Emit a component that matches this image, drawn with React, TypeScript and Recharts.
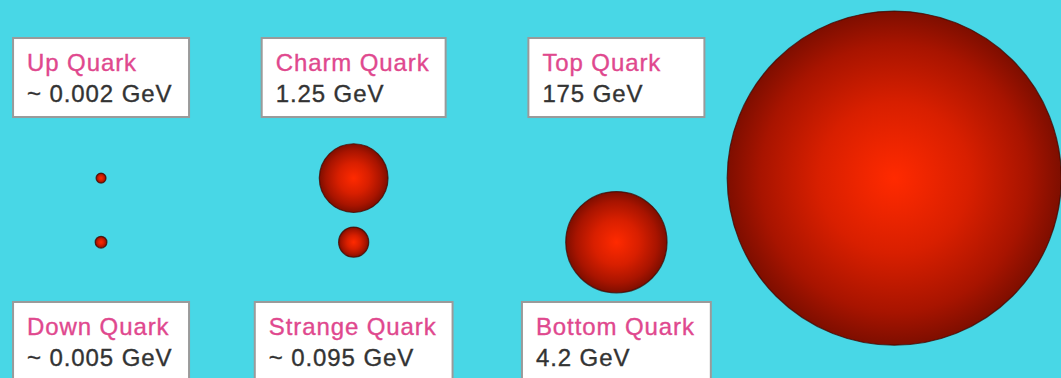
import React from 'react';
import { ScatterChart, Scatter, XAxis, YAxis } from 'recharts';

// ---- data ----
const quarkNames = ['Up Quark', 'Down Quark', 'Charm Quark', 'Strange Quark', 'Top Quark', 'Bottom Quark'];
const massLabels = ['~ 0.002 GeV', '~ 0.005 GeV', '1.25 GeV', '~ 0.095 GeV', '175 GeV', '4.2 GeV'];
const massesGeV = [0.002, 0.005, 1.25, 0.095, 175, 4.2];
const bubbleX = [1, 1, 2, 2, 4.14, 3.04];
const bubbleY = [2, 1, 2, 1, 2, 1];
const labelX = [1, 1, 2, 2, 3.04, 3.04];
const labelY = [3.57, -0.55, 3.57, -0.55, 3.57, -0.55];

const bubbles = quarkNames.map((name, i) => ({ name, x: bubbleX[i], y: bubbleY[i], mass: massesGeV[i] }));
const labels = quarkNames.map((name, i) => ({ name, value: massLabels[i], x: labelX[i], y: labelY[i] }));

// ---- styles ----
const W = 1061;
const H = 378;
const BG = '#48d7e6';
const FONT = '"Liberation Sans", Arial, Helvetica, sans-serif';
const FONT_SIZE = 24;
const LETTER = 0.9;
const TITLE_COLOR = '#e0488e';
const VALUE_COLOR = '#333333';

let ctx: CanvasRenderingContext2D | null = null;
function textWidth(s: string) {
  if (!ctx) {
    const c = document.createElement('canvas');
    ctx = c.getContext('2d');
  }
  if (!ctx) return s.length * FONT_SIZE * 0.55;
  ctx.font = `${FONT_SIZE}px "Liberation Sans"`;
  return ctx.measureText(s).width + LETTER * s.length;
}

// sphere volume ~ mass
const radiusOf = (m: number) => Math.max(5, 32 * Math.pow(m, 0.32));

const Bubble = (props: any) => {
  const { cx, cy, payload } = props;
  const r = radiusOf(payload.mass);
  return (
    <circle cx={cx} cy={cy} r={r} fill="url(#quarkGrad)" stroke="#3d0800" strokeOpacity={0.75} strokeWidth={1.2} />
  );
};

const LabelBox = (props: any) => {
  const { cx, cy, payload } = props;
  const tw = Math.max(textWidth(payload.name), textWidth(payload.value));
  const bw = Math.max(176, tw + 30);
  const bh = 79;
  const left = cx - bw / 2;
  const top = cy - bh / 2;
  return (
    <g>
      <rect x={left} y={top} width={bw} height={bh} fill="#ffffff" stroke="#9a9a9a" strokeWidth={2} />
      <text x={left + 14} y={top + 33} fill={TITLE_COLOR} stroke={TITLE_COLOR} strokeWidth={0.35} fontFamily={FONT} fontSize={FONT_SIZE} letterSpacing={LETTER}>
        {payload.name}
      </text>
      <text x={left + 14} y={top + 64} fill={VALUE_COLOR} stroke={VALUE_COLOR} strokeWidth={0.35} fontFamily={FONT} fontSize={FONT_SIZE} letterSpacing={LETTER}>
        {payload.value}
      </text>
    </g>
  );
};

export default function App() {
  return (
    <div style={{ width: W, height: H, background: BG, overflow: 'hidden' }}>
      <style>{`body{margin:0;background:${BG};}`}</style>
      <ScatterChart width={W} height={H} margin={{ top: 0, right: 0, bottom: 0, left: 0 }}>
        <defs>
          <radialGradient id="quarkGrad" cx="50%" cy="50%" r="50%">
            <stop offset="0%" stopColor="#ff2a00" />
            <stop offset="45%" stopColor="#d81f00" />
            <stop offset="80%" stopColor="#a81400" />
            <stop offset="100%" stopColor="#7e0e00" />
          </radialGradient>
        </defs>
        <XAxis type="number" dataKey="x" domain={[0.6, 4.8]} allowDataOverflow hide />
        <YAxis type="number" dataKey="y" domain={[-1.12, 4.78]} allowDataOverflow hide />
        <Scatter data={bubbles} shape={Bubble} isAnimationActive={false} />
        <Scatter data={labels} shape={LabelBox} isAnimationActive={false} />
      </ScatterChart>
    </div>
  );
}
